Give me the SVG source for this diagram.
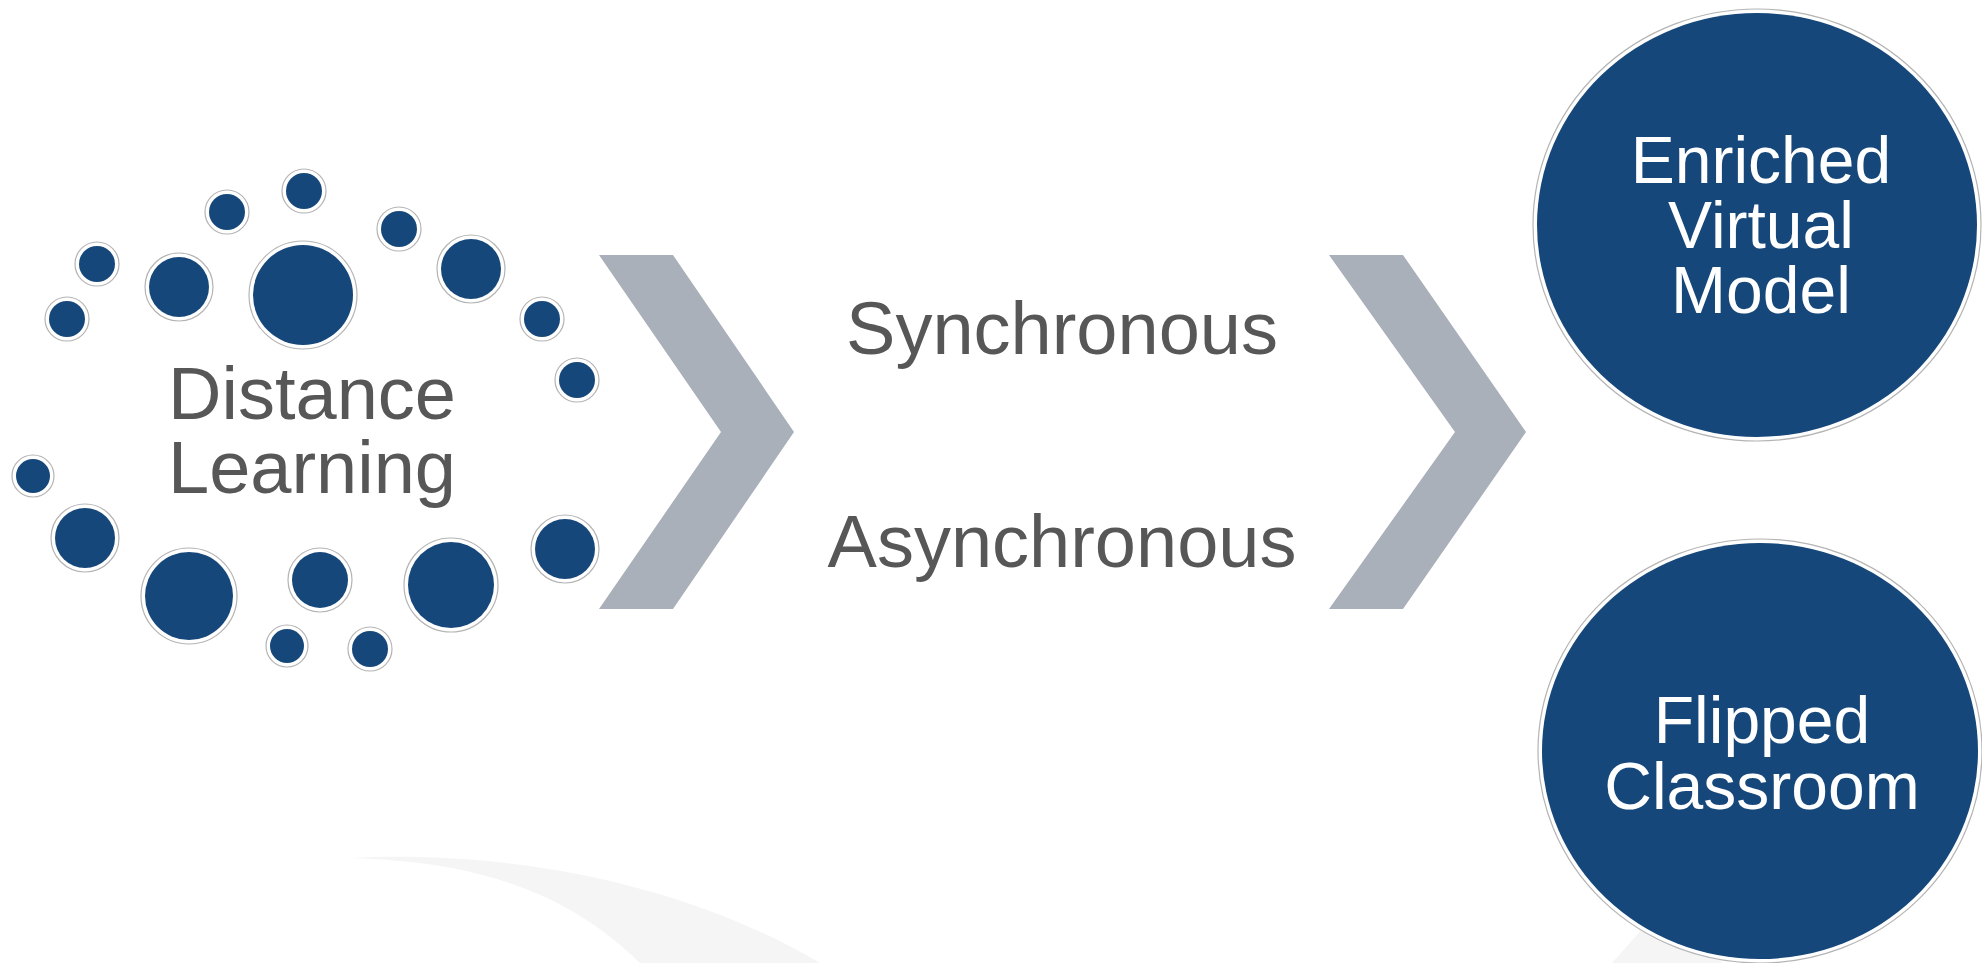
<svg xmlns="http://www.w3.org/2000/svg" width="1982" height="963" viewBox="0 0 1982 963">
<defs>
<style>
.ring{fill:#ffffff;stroke:#b4b4b4;stroke-width:1.2}
.dot{fill:#16477a}
.lbl{font-family:"Liberation Sans",Arial,sans-serif;fill:#575757;text-anchor:middle}
.wlbl{font-family:"Liberation Sans",Arial,sans-serif;fill:#ffffff;text-anchor:middle}
.chev{fill:#aab0b9}
.swoosh{fill:#f5f5f5}
</style>
</defs>
<rect width="1982" height="963" fill="#ffffff"/>
<g id="background">
<path class="swoosh" d="M352 858 C500 850 680 880 820 963 L640 963 C580 905 500 862 352 858 Z"/>
<path class="swoosh" d="M1612 963 L1668 900 L1790 900 L1720 963 Z"/>
</g>
<g id="distance-learning">
<g id="dots">
<circle class="ring" cx="304" cy="191" r="22"/><circle class="dot" cx="304" cy="191" r="18"/>
<circle class="ring" cx="227" cy="212" r="22"/><circle class="dot" cx="227" cy="212" r="18"/>
<circle class="ring" cx="97" cy="264" r="22"/><circle class="dot" cx="97" cy="264" r="18"/>
<circle class="ring" cx="67" cy="319" r="22"/><circle class="dot" cx="67" cy="319" r="18"/>
<circle class="ring" cx="179" cy="287" r="34"/><circle class="dot" cx="179" cy="287" r="30"/>
<circle class="ring" cx="303" cy="295" r="54"/><circle class="dot" cx="303" cy="295" r="50"/>
<circle class="ring" cx="399" cy="229" r="22"/><circle class="dot" cx="399" cy="229" r="18"/>
<circle class="ring" cx="471" cy="269" r="34"/><circle class="dot" cx="471" cy="269" r="30"/>
<circle class="ring" cx="542" cy="319" r="22"/><circle class="dot" cx="542" cy="319" r="18"/>
<circle class="ring" cx="577" cy="380" r="22"/><circle class="dot" cx="577" cy="380" r="18"/>
<circle class="ring" cx="33" cy="476" r="21"/><circle class="dot" cx="33" cy="476" r="17"/>
<circle class="ring" cx="85" cy="538" r="34"/><circle class="dot" cx="85" cy="538" r="30"/>
<circle class="ring" cx="189" cy="596" r="48"/><circle class="dot" cx="189" cy="596" r="44"/>
<circle class="ring" cx="320" cy="580" r="32"/><circle class="dot" cx="320" cy="580" r="28"/>
<circle class="ring" cx="451" cy="585" r="47"/><circle class="dot" cx="451" cy="585" r="43"/>
<circle class="ring" cx="565" cy="549" r="34"/><circle class="dot" cx="565" cy="549" r="30"/>
<circle class="ring" cx="287" cy="646" r="21"/><circle class="dot" cx="287" cy="646" r="17"/>
<circle class="ring" cx="370" cy="649" r="22"/><circle class="dot" cx="370" cy="649" r="18"/>
</g>
<text class="lbl" font-size="74"><tspan x="312" y="419">Distance</tspan><tspan x="312" y="493">Learning</tspan></text>
</g>
<g id="connectors">
<polygon class="chev" points="599,255 673,255 794,432 673,609 599,609 721,432"/>
<polygon class="chev" points="1329,255 1403,255 1526,432 1403,609 1329,609 1455,432"/>
</g>
<g id="modes">
<text class="lbl" font-size="74" x="1062" y="354">Synchronous</text>
<text class="lbl" font-size="74" x="1062" y="567">Asynchronous</text>
</g>
<g id="enriched-virtual-model">
<ellipse cx="1757" cy="225" rx="224" ry="216" fill="#ffffff" stroke="#b4b4b4" stroke-width="1.2"/>
<ellipse cx="1757" cy="225" rx="220" ry="212" class="dot"/>
<text class="wlbl" font-size="66"><tspan x="1761" y="183">Enriched</tspan><tspan x="1761" y="248">Virtual</tspan><tspan x="1761" y="313">Model</tspan></text>
</g>
<g id="flipped-classroom">
<ellipse cx="1760" cy="751" rx="222" ry="212" fill="#ffffff" stroke="#b4b4b4" stroke-width="1.2"/>
<ellipse cx="1760" cy="751" rx="218" ry="208" class="dot"/>
<text class="wlbl" font-size="66"><tspan x="1762" y="743">Flipped</tspan><tspan x="1762" y="809">Classroom</tspan></text>
</g>
</svg>
